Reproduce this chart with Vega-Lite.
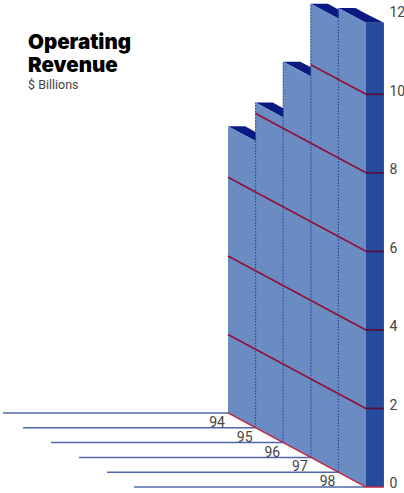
{
  "$schema": "https://vega.github.io/schema/vega-lite/v6.json",
  "width": 384,
  "height": 493,
  "padding": 0,
  "background": "#ffffff",
  "config": {"view": {"stroke": null}},
  "title": {
    "text": ["Operating", "Revenue"],
    "subtitle": "$ Billions",
    "anchor": "start",
    "frame": "group",
    "orient": "top",
    "dx": 28,
    "dy": 95,
    "font": "Inter",
    "fontSize": 20.5,
    "fontWeight": 900,
    "color": "#000000",
    "lineHeight": 23,
    "subtitleFont": "Roboto",
    "subtitleFontSize": 12.5,
    "subtitleColor": "#444444",
    "subtitlePadding": 2
  },
  "datasets": {
    "faces": [
      {"year": 94, "edge": 94, "floor": 1.885, "top": 9.185},
      {"year": 94, "edge": 95, "floor": 1.508, "top": 8.808},
      {"year": 95, "edge": 95, "floor": 1.508, "top": 9.788},
      {"year": 95, "edge": 96, "floor": 1.131, "top": 9.411},
      {"year": 96, "edge": 96, "floor": 1.131, "top": 10.831},
      {"year": 96, "edge": 97, "floor": 0.754, "top": 10.454},
      {"year": 97, "edge": 97, "floor": 0.754, "top": 12.304},
      {"year": 97, "edge": 98, "floor": 0.377, "top": 11.927},
      {"year": 98, "edge": 98, "floor": 0.377, "top": 12.197},
      {"year": 98, "edge": 99, "floor": 0, "top": 11.82}
    ],
    "roofs": [
      {"year": 94, "edge": 94, "lower": 9.185, "upper": 9.185},
      {"year": 94, "edge": 94.62, "lower": 8.951, "upper": 9.185},
      {"year": 94, "edge": 95, "lower": 8.808, "upper": 9.042},
      {"year": 94, "edge": 95.62, "lower": 8.808, "upper": 8.808},
      {"year": 95, "edge": 95, "lower": 9.788, "upper": 9.788},
      {"year": 95, "edge": 95.62, "lower": 9.554, "upper": 9.788},
      {"year": 95, "edge": 96, "lower": 9.411, "upper": 9.645},
      {"year": 95, "edge": 96.62, "lower": 9.411, "upper": 9.411},
      {"year": 96, "edge": 96, "lower": 10.831, "upper": 10.831},
      {"year": 96, "edge": 96.62, "lower": 10.597, "upper": 10.831},
      {"year": 96, "edge": 97, "lower": 10.454, "upper": 10.688},
      {"year": 96, "edge": 97.62, "lower": 10.454, "upper": 10.454},
      {"year": 97, "edge": 97, "lower": 12.304, "upper": 12.304},
      {"year": 97, "edge": 97.62, "lower": 12.07, "upper": 12.304},
      {"year": 97, "edge": 98, "lower": 11.927, "upper": 12.161},
      {"year": 97, "edge": 98.62, "lower": 11.927, "upper": 11.927},
      {"year": 98, "edge": 98, "lower": 12.197, "upper": 12.197},
      {"year": 98, "edge": 98.62, "lower": 11.963, "upper": 12.197},
      {"year": 98, "edge": 99, "lower": 11.82, "upper": 12.054},
      {"year": 98, "edge": 99.65, "lower": 11.82, "upper": 11.82}
    ],
    "gridFront": [
      {"level": 2, "edge": 94, "y": 3.885},
      {"level": 2, "edge": 99, "y": 2},
      {"level": 4, "edge": 94, "y": 5.885},
      {"level": 4, "edge": 99, "y": 4},
      {"level": 6, "edge": 94, "y": 7.885},
      {"level": 6, "edge": 99, "y": 6},
      {"level": 8, "edge": 95, "y": 9.508},
      {"level": 8, "edge": 99, "y": 8},
      {"level": 10, "edge": 97, "y": 10.754},
      {"level": 10, "edge": 99, "y": 10}
    ],
    "floorLines": [
      {"year": "94", "start": 85.85, "edge": 94, "floor": 1.885},
      {"year": "95", "start": 86.57, "edge": 95, "floor": 1.508},
      {"year": "96", "start": 87.59, "edge": 96, "floor": 1.131},
      {"year": "97", "start": 88.6, "edge": 97, "floor": 0.754},
      {"year": "98", "start": 89.62, "edge": 98, "floor": 0.377},
      {"year": "99", "start": 90.6, "edge": 99, "floor": 0}
    ],
    "dividers": [
      {"edge": 95, "floor": 1.508, "top": 9.788},
      {"edge": 96, "floor": 1.131, "top": 10.831},
      {"edge": 97, "floor": 0.754, "top": 12.304},
      {"edge": 98, "floor": 0.377, "top": 12.197}
    ],
    "sideTicks": [
      {"level": 2, "from": 99, "to": 99.65},
      {"level": 4, "from": 99, "to": 99.65},
      {"level": 6, "from": 99, "to": 99.65},
      {"level": 8, "from": 99, "to": 99.65},
      {"level": 10, "from": 99, "to": 99.65}
    ]
  },
  "layer": [
    {
      "data": {"name": "floorLines"},
      "mark": {"type": "rule", "color": "#4f66aa", "strokeWidth": 1.5},
      "encoding": {
        "x": {
          "field": "start",
          "type": "quantitative",
          "scale": {"domain": [85.74, 99.652], "nice": false, "zero": false},
          "axis": null
        },
        "x2": {"field": "edge"},
        "y": {
          "field": "floor",
          "type": "quantitative",
          "scale": {"domain": [-0.153, 12.401], "nice": false, "zero": false},
          "axis": {
            "orient": "right",
            "values": [0, 2, 4, 6, 8, 10, 12],
            "title": null,
            "domain": false,
            "ticks": false,
            "grid": false,
            "labelPadding": 5,
            "labelOffset": -3,
            "labelFont": "Roboto",
            "labelFontSize": 14,
            "labelColor": "#444444"
          }
        }
      }
    },
    {
      "data": {"name": "roofs"},
      "mark": {"type": "area", "color": "#0b1a82"},
      "encoding": {
        "x": {"field": "edge", "type": "quantitative"},
        "y": {"field": "lower", "type": "quantitative"},
        "y2": {"field": "upper"},
        "detail": {"field": "year"}
      }
    },
    {
      "data": {"values": [{"from": 99, "to": 99.65, "low": 0, "high": 11.82}]},
      "mark": {"type": "rect", "color": "#264a9c"},
      "encoding": {
        "x": {"field": "from", "type": "quantitative"},
        "x2": {"field": "to"},
        "y": {"field": "low", "type": "quantitative"},
        "y2": {"field": "high"}
      }
    },
    {
      "data": {"name": "faces"},
      "mark": {"type": "area", "color": "#6a8cc3"},
      "encoding": {
        "x": {"field": "edge", "type": "quantitative"},
        "y": {"field": "floor", "type": "quantitative"},
        "y2": {"field": "top"},
        "detail": {"field": "year"}
      }
    },
    {
      "data": {"name": "dividers"},
      "mark": {"type": "rule", "color": "#1f3f95", "strokeWidth": 1, "strokeDash": [2, 1]},
      "encoding": {
        "x": {"field": "edge", "type": "quantitative"},
        "y": {"field": "floor", "type": "quantitative"},
        "y2": {"field": "top"}
      }
    },
    {
      "data": {"name": "gridFront"},
      "mark": {"type": "line", "color": "#8f1238", "strokeWidth": 1.7},
      "encoding": {
        "x": {"field": "edge", "type": "quantitative"},
        "y": {"field": "y", "type": "quantitative"},
        "detail": {"field": "level"}
      }
    },
    {
      "data": {"name": "sideTicks"},
      "mark": {"type": "rule", "color": "#5a0f3a", "strokeWidth": 1.7},
      "encoding": {
        "x": {"field": "from", "type": "quantitative"},
        "x2": {"field": "to"},
        "y": {"field": "level", "type": "quantitative"}
      }
    },
    {
      "data": {"values": [
        {"edge": 94, "floor": 1.885},
        {"edge": 99, "floor": 0},
        {"edge": 99.65, "floor": 0}
      ]},
      "mark": {"type": "line", "color": "#c2243f", "strokeWidth": 1.4},
      "encoding": {
        "x": {"field": "edge", "type": "quantitative"},
        "y": {"field": "floor", "type": "quantitative"}
      }
    },
    {
      "data": {"name": "floorLines"},
      "transform": [{"filter": "datum.year != '99'"}],
      "mark": {
        "type": "text",
        "align": "right",
        "baseline": "top",
        "dx": -3,
        "dy": 3,
        "font": "Roboto",
        "fontSize": 14,
        "color": "#444444"
      },
      "encoding": {
        "x": {"field": "edge", "type": "quantitative"},
        "y": {"field": "floor", "type": "quantitative"},
        "text": {"field": "year"}
      }
    }
  ]
}
